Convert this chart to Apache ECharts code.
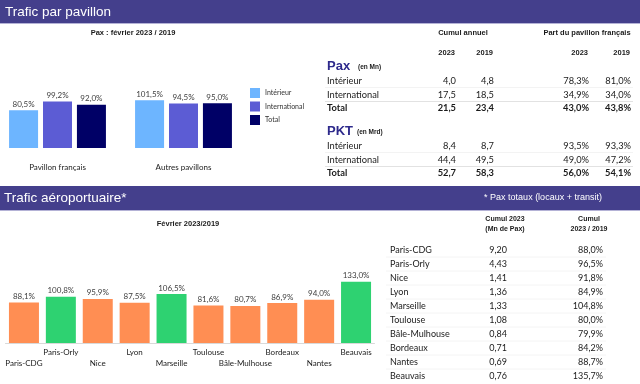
<!DOCTYPE html>
<html><head><meta charset="utf-8">
<script src="https://cdn.jsdelivr.net/npm/echarts@6/dist/echarts.min.js"></script>
<style>html,body{margin:0;padding:0;background:#fff}#c{width:640px;height:384px}</style>
</head><body><div id="c"></div>
<script>
// ---- Data ----
const pavCategories = ['Pavillon français', 'Autres pavillons'];
const pavSeriesNames = ['Intérieur', 'International', 'Total'];
const pavInterieur = [80.5, 101.5];
const pavInternational = [99.2, 94.5];
const pavTotal = [92.0, 95.0];

const tabRows = ['Intérieur', 'International', 'Total'];
const tabYears = ['2023', '2019'];
const paxCumul2023 = [4.0, 17.5, 21.5];
const paxCumul2019 = [4.8, 18.5, 23.4];
const paxPart2023 = [78.3, 34.9, 43.0];
const paxPart2019 = [81.0, 34.0, 43.8];
const pktCumul2023 = [8.4, 44.4, 52.7];
const pktCumul2019 = [8.7, 49.5, 58.3];
const pktPart2023 = [93.5, 49.0, 56.0];
const pktPart2019 = [93.3, 47.2, 54.1];

const airports = ['Paris-CDG', 'Paris-Orly', 'Nice', 'Lyon', 'Marseille', 'Toulouse', 'Bâle-Mulhouse', 'Bordeaux', 'Nantes', 'Beauvais'];
const airportRatio = [88.1, 100.8, 95.9, 87.5, 106.5, 81.6, 80.7, 86.9, 94.0, 133.0];
const airportCumul2023 = [9.20, 4.43, 1.41, 1.36, 1.33, 1.08, 0.84, 0.71, 0.69, 0.76];
const airportCumulRatio = [88.0, 96.5, 91.8, 84.9, 104.8, 80.0, 79.9, 84.2, 88.7, 135.7];

// ---- Styles ----
const HEAD = '#443F8C';
const C_INT = '#6DB5FF', C_INTL = '#5C5CD4', C_TOT = '#000066';
const C_ORANGE = '#FF8E53', C_GREEN = '#2ED271';
const BODY = 'Lato';
const SANS = 'Liberation Sans';

const fr = (v, d) => v.toFixed(d).replace('.', ',');
const pct = v => fr(v, 1) + '%';

const chart = echarts.init(document.getElementById('c'), null, {renderer: 'canvas'});

const g = [];
function txt(x, y, s, o) {
  o = o || {};
  g.push({type: 'text', x: x, y: y, silent: true, style: {
    text: s, fill: o.fill || '#1a1a1a', fontSize: o.size || 9,
    fontFamily: o.family || BODY, fontWeight: o.bold ? 'bold' : 'normal',
    align: o.align || 'left', verticalAlign: 'middle'}});
}
function line(x1, x2, y, color, w) {
  g.push({type: 'line', silent: true, shape: {x1: x1, y1: y, x2: x2, y2: y},
    style: {stroke: color, lineWidth: w || 1}});
}
function rect(x, y, w, h, fill) {
  g.push({type: 'rect', silent: true, shape: {x: x, y: y, width: w, height: h}, style: {fill: fill}});
}

// header bands
rect(0, 0, 640, 23, HEAD);
line(0, 640, 23.5, '#b4b2d6', 1);
rect(0, 186, 640, 24, HEAD);
line(0, 640, 210.5, '#b4b2d6', 1);
txt(5, 12, 'Trafic par pavillon', {fill: '#fff', size: 13.5, family: SANS});
txt(4, 198, 'Trafic aéroportuaire*', {fill: '#fff', size: 13.5, family: SANS});
txt(543, 198, '* Pax totaux (locaux + transit)', {fill: '#fff', size: 9, family: SANS, align: 'center'});

// chart titles
txt(133, 33, 'Pax : février 2023 / 2019', {size: 7.5, bold: true, family: SANS, align: 'center'});
txt(188, 224, 'Février 2023/2019', {size: 7.5, bold: true, family: SANS, align: 'center'});

// table 1
txt(463, 33, 'Cumul annuel', {size: 7.5, bold: true, family: SANS, align: 'center'});
txt(587, 33, 'Part du pavillon français', {size: 7.5, bold: true, family: SANS, align: 'center'});
const colR = [456, 494, 589, 631];
[0, 1, 2, 3].forEach(i => txt(colR[i] - 1, 53, tabYears[i % 2], {size: 7.5, bold: true, family: SANS, align: 'right'}));

function block(yTitle, title, unit, rowsY, c23, c19, p23, p19) {
  txt(327, yTitle, title, {size: 13, bold: true, family: SANS, fill: '#2E2A8C'});
  txt(title === 'Pax' ? 358 : 357, yTitle + 1, unit, {size: 6.5, bold: true, family: SANS});
  tabRows.forEach((r, i) => {
    const b = i === 2;
    const y = rowsY[i];
    txt(327, y, r, {size: 9.3, bold: b});
    txt(colR[0], y, fr(c23[i], 1), {size: 9.3, bold: b, align: 'right'});
    txt(colR[1], y, fr(c19[i], 1), {size: 9.3, bold: b, align: 'right'});
    txt(colR[2], y, pct(p23[i]), {size: 9.3, bold: b, align: 'right'});
    txt(colR[3], y, pct(p19[i]), {size: 9.3, bold: b, align: 'right'});
  });
  line(325, 633, rowsY[0] + 6.5, '#f3f3f3', 1);
  line(325, 633, rowsY[1] + 6.5, '#e2e2e2', 1);
}
block(66, 'Pax', '(en Mn)', [81, 95, 108], paxCumul2023, paxCumul2019, paxPart2023, paxPart2019);
block(131, 'PKT', '(en Mrd)', [146, 160, 173], pktCumul2023, pktCumul2019, pktPart2023, pktPart2019);

// table 2
txt(505, 219, 'Cumul 2023', {size: 7, bold: true, family: SANS, align: 'center'});
txt(505, 229, '(Mn de Pax)', {size: 7, bold: true, family: SANS, align: 'center'});
txt(589, 219, 'Cumul', {size: 7, bold: true, family: SANS, align: 'center'});
txt(589, 229, '2023 / 2019', {size: 7, bold: true, family: SANS, align: 'center'});
airports.forEach((a, i) => {
  const y = 250 + i * 14;
  txt(390, y, a, {size: 9});
  txt(507, y, fr(airportCumul2023[i], 2), {size: 9, align: 'right'});
  txt(603, y, pct(airportCumulRatio[i]), {size: 9, align: 'right'});
  if (i < airports.length - 1) line(386, 606, y + 7, '#f4f4f4', 1);
});

const lbl = {show: true, position: 'top', distance: 2, fontSize: 8, color: '#404040', fontFamily: BODY, formatter: p => pct(p.value)};

chart.setOption({
  animation: false,
  textStyle: {fontFamily: BODY},
  grid: [
    {left: -5.5, width: 252, top: 54, height: 94, containLabel: false, outerBoundsMode: 'none'},
    {left: 5.5, width: 369, top: 251, height: 92, containLabel: false, outerBoundsMode: 'none'}
  ],
  legend: {
    left: 245, top: 83, orient: 'vertical', itemWidth: 10, itemHeight: 10, itemGap: 3.5,
    icon: 'rect', data: pavSeriesNames, textStyle: {fontSize: 7, color: '#333', fontFamily: BODY},
    selectedMode: false
  },
  xAxis: [
    {type: 'category', gridIndex: 0, data: pavCategories, axisLine: {show: false}, axisTick: {show: false},
     axisLabel: {fontSize: 8, color: '#1a1a1a', margin: 15, fontFamily: BODY}},
    {type: 'category', gridIndex: 1, data: airports, axisLine: {show: true, lineStyle: {color: '#d9d9d9'}}, axisTick: {show: false},
     axisLabel: {fontSize: 8, color: '#1a1a1a', margin: 4, lineHeight: 11, interval: 0, fontFamily: BODY,
       formatter: (v, i) => (i % 2 === 0 ? '\n' + v : v)}}
  ],
  yAxis: [
    {type: 'value', gridIndex: 0, min: 0, max: 200, show: false},
    {type: 'value', gridIndex: 1, min: 0, max: 200, show: false}
  ],
  series: [
    {name: pavSeriesNames[0], type: 'bar', xAxisIndex: 0, yAxisIndex: 0, data: pavInterieur, barWidth: 29, barGap: '17%', itemStyle: {color: C_INT}, label: lbl},
    {name: pavSeriesNames[1], type: 'bar', xAxisIndex: 0, yAxisIndex: 0, data: pavInternational, barWidth: 29, barGap: '17%', itemStyle: {color: C_INTL}, label: lbl},
    {name: pavSeriesNames[2], type: 'bar', xAxisIndex: 0, yAxisIndex: 0, data: pavTotal, barWidth: 29, barGap: '17%', itemStyle: {color: C_TOT}, label: lbl},
    {name: 'Février', type: 'bar', xAxisIndex: 1, yAxisIndex: 1, barWidth: 30,
     data: airportRatio.map(v => ({value: v, itemStyle: {color: v >= 100 ? C_GREEN : C_ORANGE}})),
     label: lbl}
  ],
  graphic: g
});
</script></body></html>
